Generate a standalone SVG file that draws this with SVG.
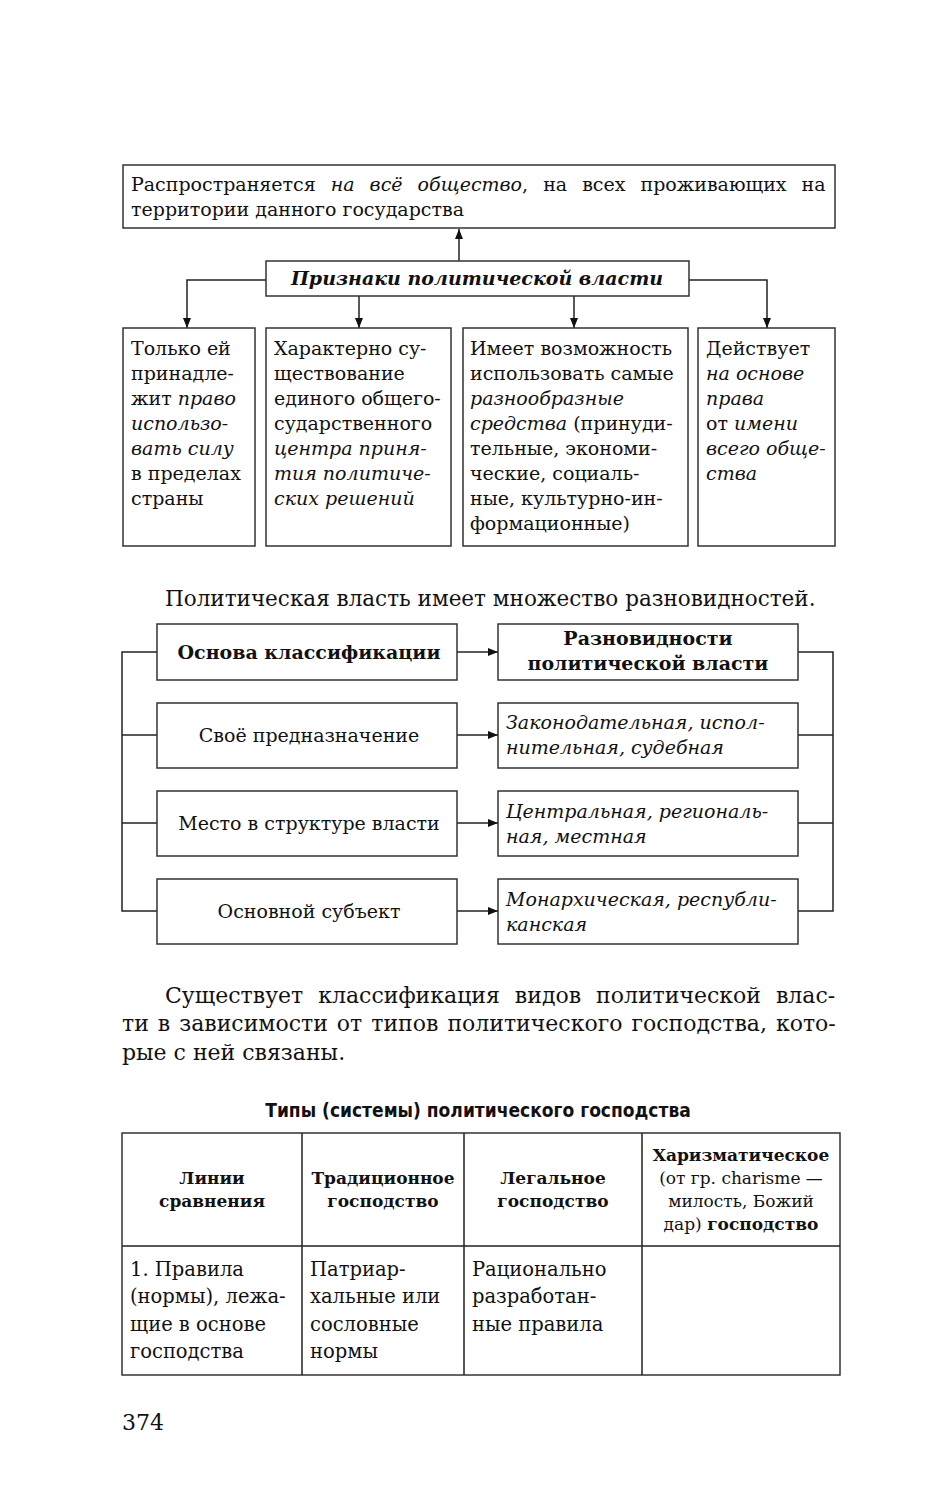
<svg xmlns="http://www.w3.org/2000/svg" width="930" height="1500" viewBox="0 0 930 1500">
<style>
.t{font-family:"DejaVu Serif","Liberation Serif",serif;font-size:19px;fill:#111}
.p{font-family:"DejaVu Serif","Liberation Serif",serif;font-size:22px;fill:#111}
.h{font-family:"DejaVu Serif","Liberation Serif",serif;font-size:17px;fill:#111}
.s{font-family:"DejaVu Sans Condensed","DejaVu Sans","Liberation Sans",sans-serif;font-size:19px;font-weight:bold;fill:#111}
.c{font-size:19.5px}
.i{font-style:italic}
.b{font-weight:bold}
.m{text-anchor:middle}
.box{fill:#fff;stroke:#333;stroke-width:1.5}
.ln{fill:none;stroke:#222;stroke-width:1.5}
</style>
<defs>
<marker id="ar" markerWidth="10" markerHeight="8" refX="10" refY="4" orient="auto" markerUnits="userSpaceOnUse">
<path d="M0,0 L10,4 L0,8 Z" fill="#111"/>
</marker>
</defs>
<rect width="930" height="1500" fill="#fff"/>

<g id="connectors">
<path class="ln" d="M459,261 V229" marker-end="url(#ar)"/>
<path class="ln" d="M266,280 H187 V328" marker-end="url(#ar)"/>
<path class="ln" d="M359,296 V328" marker-end="url(#ar)"/>
<path class="ln" d="M574,296 V328" marker-end="url(#ar)"/>
<path class="ln" d="M689,280 H767 V328" marker-end="url(#ar)"/>
<path class="ln" d="M457,652 H498" marker-end="url(#ar)"/>
<path class="ln" d="M457,735 H498" marker-end="url(#ar)"/>
<path class="ln" d="M457,823 H498" marker-end="url(#ar)"/>
<path class="ln" d="M457,911 H498" marker-end="url(#ar)"/>
<path class="ln" d="M157,652 H122 V911 H157 M122,735 H157 M122,823 H157"/>
<path class="ln" d="M798,652 H833 V911 H798 M833,735 H798 M833,823 H798"/>
</g>

<g id="top">
<rect class="box" x="123" y="165" width="712" height="63"/>
<text class="t" x="131" y="191" style="word-spacing:9px">Распространяется <tspan class="i">на всё общество</tspan>, на всех проживающих на</text>
<text class="t" x="131" y="216">территории данного государства</text>
</g>

<g id="center">
<rect class="box" x="266" y="261" width="423" height="35"/>
<text class="t b i m" x="477" y="285">Признаки политической власти</text>
</g>

<g id="sign1">
<rect class="box" x="123" y="328" width="132" height="218"/>
<text class="t" x="131" y="355">Только ей</text>
<text class="t" x="131" y="380">принадле-</text>
<text class="t" x="131" y="405">жит <tspan class="i">право</tspan></text>
<text class="t i" x="131" y="430">использо-</text>
<text class="t i" x="131" y="455">вать силу</text>
<text class="t" x="131" y="480">в пределах</text>
<text class="t" x="131" y="505">страны</text>
</g>

<g id="sign2">
<rect class="box" x="266" y="328" width="185" height="218"/>
<text class="t" x="274" y="355">Характерно су-</text>
<text class="t" x="274" y="380">ществование</text>
<text class="t" x="274" y="405">единого общего-</text>
<text class="t" x="274" y="430">сударственного</text>
<text class="t i" x="274" y="455">центра приня-</text>
<text class="t i" x="274" y="480">тия политиче-</text>
<text class="t i" x="274" y="505">ских решений</text>
</g>

<g id="sign3">
<rect class="box" x="463" y="328" width="225" height="218"/>
<text class="t" x="470" y="355">Имеет возможность</text>
<text class="t" x="470" y="380">использовать самые</text>
<text class="t i" x="470" y="405">разнообразные</text>
<text class="t" x="470" y="430"><tspan class="i">средства</tspan> (принуди-</text>
<text class="t" x="470" y="455">тельные, экономи-</text>
<text class="t" x="470" y="480">ческие, социаль-</text>
<text class="t" x="470" y="505">ные, культурно-ин-</text>
<text class="t" x="470" y="530">формационные)</text>
</g>

<g id="sign4">
<rect class="box" x="698" y="328" width="137" height="218"/>
<text class="t" x="706" y="355">Действует</text>
<text class="t i" x="706" y="380">на основе</text>
<text class="t i" x="706" y="405">права</text>
<text class="t" x="706" y="430">от <tspan class="i">имени</tspan></text>
<text class="t i" x="706" y="455">всего обще-</text>
<text class="t i" x="706" y="480">ства</text>
</g>

<text class="p" x="165" y="606" style="font-size:21.5px">Политическая власть имеет множество разновидностей.</text>

<g id="basis-head">
<rect class="box" x="157" y="624" width="300" height="56"/>
<text class="t b m" x="309" y="659">Основа классификации</text>
</g>
<g id="kinds-head">
<rect class="box" x="498" y="624" width="300" height="56"/>
<text class="t b m" x="648" y="645">Разновидности</text>
<text class="t b m" x="648" y="670">политической власти</text>
</g>
<g id="basis1">
<rect class="box" x="157" y="703" width="300" height="65"/>
<text class="t m" x="309" y="742">Своё предназначение</text>
</g>
<g id="kinds1">
<rect class="box" x="498" y="703" width="300" height="65"/>
<text class="t i" x="506" y="729">Законодательная, испол-</text>
<text class="t i" x="506" y="754">нительная, судебная</text>
</g>
<g id="basis2">
<rect class="box" x="157" y="791" width="300" height="65"/>
<text class="t m" x="309" y="830">Место в структуре власти</text>
</g>
<g id="kinds2">
<rect class="box" x="498" y="791" width="300" height="65"/>
<text class="t i" x="506" y="818">Центральная, региональ-</text>
<text class="t i" x="506" y="843">ная, местная</text>
</g>
<g id="basis3">
<rect class="box" x="157" y="879" width="300" height="65"/>
<text class="t m" x="309" y="918">Основной субъект</text>
</g>
<g id="kinds3">
<rect class="box" x="498" y="879" width="300" height="65"/>
<text class="t i" x="506" y="906">Монархическая, республи-</text>
<text class="t i" x="506" y="931">канская</text>
</g>

<text class="p" x="165" y="1003" style="word-spacing:8px">Существует классификация видов политической влас-</text>
<text class="p" x="122" y="1031" style="word-spacing:2px">ти в зависимости от типов политического господства, кото-</text>
<text class="p" x="122" y="1060">рые с ней связаны.</text>

<text class="s m" x="478" y="1117">Типы (системы) политического господства</text>

<g id="table">
<rect x="122" y="1133" width="718" height="242" fill="none" stroke="#333" stroke-width="1.5"/>
<path class="ln" d="M122,1246 H840 M302,1133 V1375 M464,1133 V1375 M642,1133 V1375"/>
<text class="h b m" x="212" y="1184">Линии</text>
<text class="h b m" x="212" y="1207">сравнения</text>
<text class="h b m" x="383" y="1184">Традиционное</text>
<text class="h b m" x="383" y="1207">господство</text>
<text class="h b m" x="553" y="1184">Легальное</text>
<text class="h b m" x="553" y="1207">господство</text>
<text class="h b m" x="741" y="1161">Харизматическое</text>
<text class="h m" x="741" y="1184">(от гр. charisme —</text>
<text class="h m" x="741" y="1207">милость, Божий</text>
<text class="h m" x="741" y="1230">дар) <tspan class="b">господство</tspan></text>
<text class="t c" x="130" y="1276">1. Правила</text>
<text class="t c" x="130" y="1303">(нормы), лежа-</text>
<text class="t c" x="130" y="1331">щие в основе</text>
<text class="t c" x="130" y="1358">господства</text>
<text class="t c" x="310" y="1276">Патриар-</text>
<text class="t c" x="310" y="1303">хальные или</text>
<text class="t c" x="310" y="1331">сословные</text>
<text class="t c" x="310" y="1358">нормы</text>
<text class="t c" x="472" y="1276">Рационально</text>
<text class="t c" x="472" y="1303">разработан-</text>
<text class="t c" x="472" y="1331">ные правила</text>
</g>

<text class="p" x="122" y="1430">374</text>
</svg>
